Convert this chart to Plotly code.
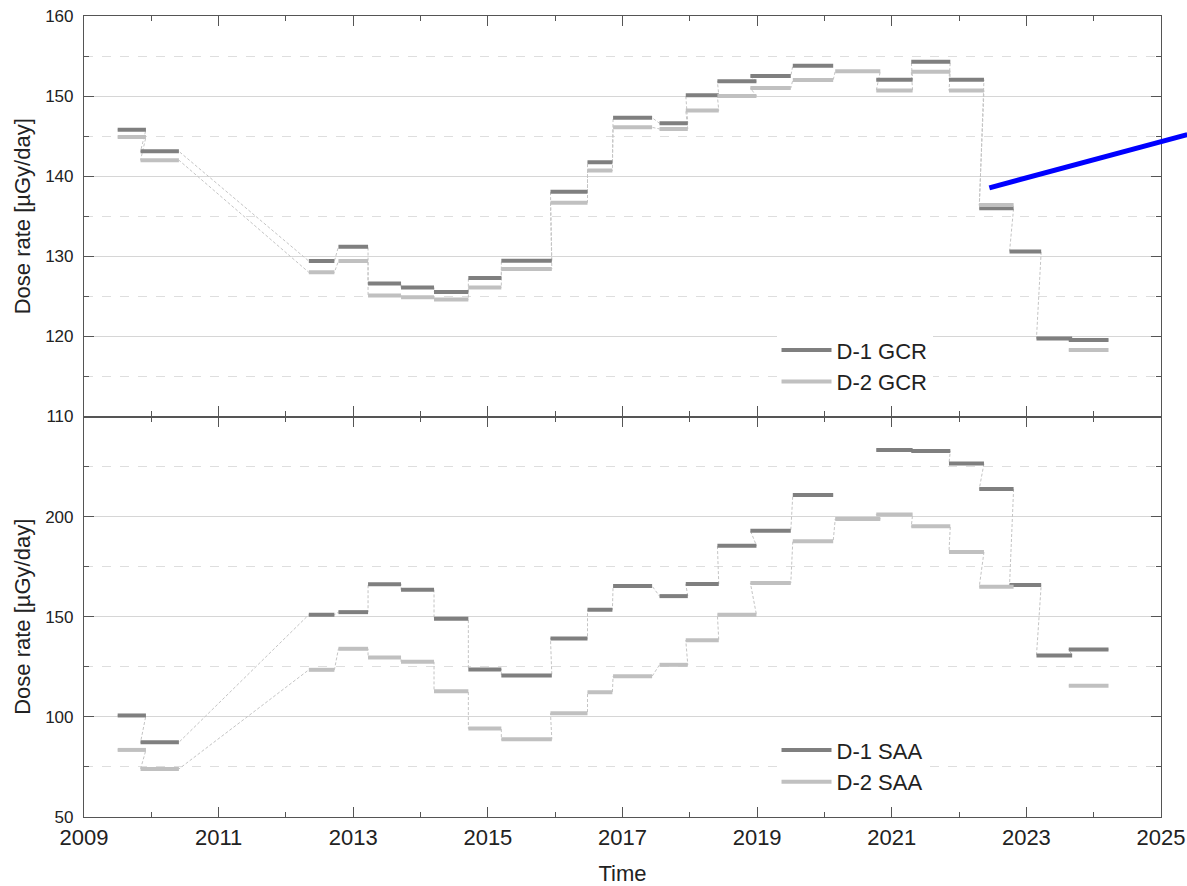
import plotly.graph_objects as go
from plotly.subplots import make_subplots

# Measurement periods (decimal years)
seg_start = [2009.50, 2009.84, 2012.34, 2012.78, 2013.22, 2013.71, 2014.20, 2014.71, 2015.20,
             2015.93, 2016.48, 2016.86, 2017.55, 2017.94, 2018.41, 2018.90, 2019.53, 2020.16,
             2020.77, 2021.29, 2021.85, 2022.30, 2022.75, 2023.15, 2023.63]
seg_end = [2009.92, 2010.41, 2012.72, 2013.22, 2013.71, 2014.20, 2014.71, 2015.20, 2015.95,
           2016.48, 2016.85, 2017.44, 2017.97, 2018.43, 2018.99, 2019.50, 2020.13, 2020.83,
           2021.31, 2021.87, 2022.37, 2022.81, 2023.22, 2023.68, 2024.22]

# GCR dose rate [µGy/day]
gcr_d1 = [145.8, 143.1, 129.4, 131.2, 126.6, 126.1, 125.55, 127.3, 129.45, 138.05, 141.75, 147.3,
          146.6, 150.1, 151.85, 152.5, 153.8, None, 152.05, 154.3, 152.05, 136.0, 130.6, 119.75, 119.55]
gcr_d2 = [144.9, 142.0, 128.0, 129.4, 125.1, 124.9, 124.6, 126.1, 128.4, 136.7, 140.7, 146.1,
          145.9, 148.2, 150.0, 151.0, 152.0, 153.1, 150.7, 153.05, 150.7, 136.4, None, None, 118.3]

# SAA dose rate [µGy/day]
saa_d1 = [100.7, 87.3, 151.0, 152.3, 166.2, 163.5, 149.0, 123.7, 120.7, 139.2, 153.5, 165.3,
          160.3, 166.3, 185.5, 193.0, 210.8, None, 233.3, 232.8, 226.5, 213.8, 165.8, 130.7, 133.7]
saa_d2 = [83.5, 74.0, 123.5, 134.0, 129.7, 127.5, 112.8, 94.2, 88.8, 101.8, 112.3, 120.3,
          126.0, 138.3, 151.0, 166.8, 187.7, 198.8, 201.0, 195.2, 182.3, 165.0, None, None, 115.5]

# Blue pointer line (data coords of the upper panel)
pointer_x = [2022.45, 2025.39]
pointer_y = [138.55, 145.2]

X_RANGE = [2009, 2025]
GCR_RANGE = [110, 160]
SAA_RANGE = [50, 250]

C_D1 = "#7f7f7f"
C_D2 = "#c0c0c0"
C_CONN = "#c4c4c4"
AXC = "#555555"
TXT = "#222222"
FONT = "Liberation Sans, Arial, sans-serif"


def build(values):
    xs, ys, cx, cy = [], [], [], []
    for s, e, v in zip(seg_start, seg_end, values):
        if v is None:
            cx.append(None)
            cy.append(None)
            continue
        xs += [s, e, None]
        ys += [v, v, None]
        cx += [s, e]
        cy += [v, v]
    return xs, ys, cx, cy


fig = make_subplots(rows=2, cols=1, shared_xaxes=True, vertical_spacing=0)

series = [
    (1, gcr_d1, "D-1 GCR", C_D1, "legend"),
    (1, gcr_d2, "D-2 GCR", C_D2, "legend"),
    (2, saa_d1, "D-1 SAA", C_D1, "legend2"),
    (2, saa_d2, "D-2 SAA", C_D2, "legend2"),
]

# connectors first
for row, vals, name, col, lg in series:
    xs, ys, cx, cy = build(vals)
    fig.add_trace(go.Scatter(x=cx, y=cy, mode="lines", showlegend=False, hoverinfo="skip",
                             line=dict(color=C_CONN, width=1, dash="3px,2px")), row=row, col=1)
for row, vals, name, col, lg in series:
    xs, ys, cx, cy = build(vals)
    fig.add_trace(go.Scatter(x=xs, y=ys, mode="lines", name=name, legend=lg,
                             line=dict(color=col, width=4)), row=row, col=1)

xcommon = dict(range=X_RANGE, tick0=2009, dtick=2, ticks="inside", ticklen=10, tickwidth=1.2,
               tickcolor=AXC, showline=True, linecolor=AXC, linewidth=1.2, mirror="allticks",
               showgrid=False, zeroline=False, automargin=False,
               minor=dict(dtick=1, ticks="inside", ticklen=5, tickwidth=1.2, tickcolor=AXC))
fig.update_xaxes(**xcommon)
fig.update_xaxes(showticklabels=False, row=1, col=1)
fig.update_xaxes(tickfont=dict(size=22, color=TXT, family=FONT),
                 title=dict(text="Time", font=dict(size=22, color=TXT, family=FONT), standoff=21),
                 row=2, col=1)

ycommon = dict(ticks="inside", ticklen=10, tickwidth=1.2, tickcolor=AXC, showline=True,
               linecolor=AXC, linewidth=1.2, mirror="allticks", showgrid=True,
               gridcolor="#d6d6d6", gridwidth=1, zeroline=False, automargin=False,
               tickfont=dict(size=17, color=TXT, family=FONT), ticklabelstandoff=6,
               title=dict(text="Dose rate [µGy/day]", font=dict(size=22, color=TXT, family=FONT),
                          standoff=8))
fig.update_yaxes(**ycommon)
fig.update_yaxes(range=GCR_RANGE, tick0=110, dtick=10,
                 minor=dict(dtick=5, tick0=110, ticks="inside", ticklen=5, tickwidth=1.2, tickcolor=AXC,
                            showgrid=True, griddash="dash", gridcolor="#dedede", gridwidth=1),
                 row=1, col=1)
fig.update_yaxes(range=SAA_RANGE, tickmode="array", tickvals=[50, 100, 150, 200],
                 minor=dict(tickmode="array", tickvals=[75, 125, 175, 225], ticks="inside", ticklen=5,
                            tickwidth=1.2, tickcolor=AXC, showgrid=True, griddash="dash",
                            gridcolor="#dedede", gridwidth=1),
                 row=2, col=1)

# pointer line in paper coords (may extend past the plot area)
dom_top = fig.layout.yaxis.domain
def px(x):
    return (x - X_RANGE[0]) / (X_RANGE[1] - X_RANGE[0])
def py(y):
    return dom_top[0] + (y - GCR_RANGE[0]) / (GCR_RANGE[1] - GCR_RANGE[0]) * (dom_top[1] - dom_top[0])

fig.add_shape(type="line", xref="paper", yref="paper",
              x0=px(pointer_x[0]), y0=py(pointer_y[0]), x1=px(pointer_x[1]), y1=py(pointer_y[1]),
              line=dict(color="#0000ff", width=5))

legend_style = dict(font=dict(size=22, color=TXT, family=FONT), bgcolor="white", borderwidth=0,
                    xanchor="left", yanchor="top", itemwidth=50, tracegroupgap=0)
fig.update_layout(
    width=1187, height=886,
    margin=dict(l=84, r=26, t=16, b=69),
    paper_bgcolor="white", plot_bgcolor="white",
    font=dict(family=FONT, color=TXT),
    legend=dict(x=0.643, y=0.609, **legend_style),
    legend2=dict(x=0.643, y=0.1095, **legend_style),
    showlegend=True,
)

fig.write_html("out.html", config={"displayModeBar": False},
               post_script="document.body.style.margin='0';")
